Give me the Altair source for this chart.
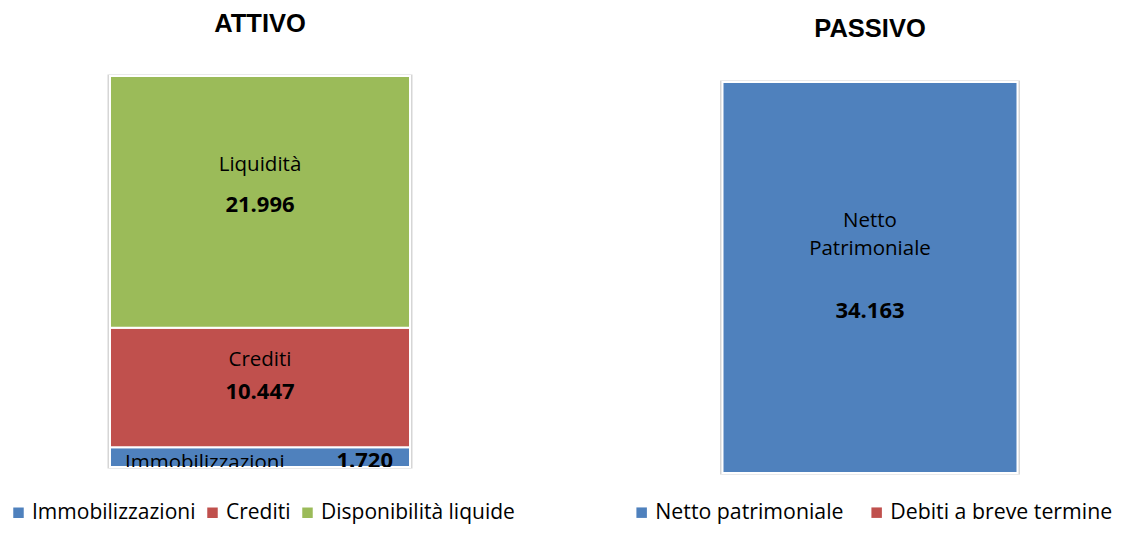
import altair as alt
import pandas as pd

# ---- data ----
attivo_cats = ["Immobilizzazioni", "Crediti", "Disponibilità liquide"]
attivo_labels = ["Immobilizzazioni", "Crediti", "Liquidità"]
attivo_values = [1720, 10447, 21996]
attivo_colors = ["#4F81BD", "#C0504D", "#9BBB59"]

passivo_cats = ["Netto patrimoniale", "Debiti a breve termine"]
passivo_labels = ["Netto\nPatrimoniale", ""]
passivo_values = [34163, 0]
passivo_colors = ["#4F81BD", "#C0504D"]

titles = ["ATTIVO", "PASSIVO"]

FONT = "Open Sans"
TITLE_FONT = "Liberation Sans"


def it_fmt(v):
    return f"{v:,}".replace(",", ".")


def build(cats, labels, values, side):
    rows = []
    acc = 0
    for i, (c, l, v) in enumerate(zip(cats, labels, values)):
        rows.append(dict(side=side, cat=c, label=l, value=v, order=i,
                         start=acc, end=acc + v, mid=acc + v / 2,
                         vtext=it_fmt(v)))
        acc += v
    return pd.DataFrame(rows), acc


df_a, tot_a = build(attivo_cats, attivo_labels, attivo_values, titles[0])
df_p, tot_p = build(passivo_cats, passivo_labels, passivo_values, titles[1])


def panel(df, total, cats, colors, bar_size, width, height, yrange, title,
          legend, text_specs):
    base = alt.Chart(df)
    x = alt.X("side:N", axis=None)
    yscale = alt.Scale(domain=[0, total], nice=False, zero=True, range=yrange)
    bg_df = pd.DataFrame({"side": [df["side"].iloc[0]], "start": [0], "end": [total]})
    bg = alt.Chart(bg_df).mark_bar(size=bar_size + 2, color="white",
                                   stroke="#d6d6d6", strokeWidth=3).encode(
        x=x, y=alt.Y("start:Q", scale=yscale, axis=None), y2="end:Q")
    bars = base.transform_filter("datum.value > 0").mark_bar(
        size=bar_size, stroke="white", strokeWidth=2).encode(
        x=x,
        y=alt.Y("start:Q", scale=yscale, axis=None),
        y2="end:Q",
        color=alt.Color("cat:N", scale=alt.Scale(domain=cats, range=colors),
                        legend=legend),
    )
    layers = [bg, bars]
    for cat, field, kw in text_specs:
        layers.append(
            base.transform_filter(alt.datum.cat == cat).mark_text(
                font=FONT, color="black", clip=True, lineBreak="\n", **kw
            ).encode(x=x, y=alt.Y("mid:Q", scale=yscale, axis=None),
                     text=f"{field}:N")
        )
    return alt.layer(*layers).properties(width=width, height=height, title=title)


def legend(x, y, size, pad):
    return alt.Legend(orient="none", legendX=x, legendY=y, direction="horizontal",
                      title=None, symbolType="square", symbolSize=110,
                      symbolStrokeWidth=0, labelFont=FONT, labelFontSize=size,
                      labelColor="black", labelOffset=3, columnPadding=pad,
                      padding=0, labelLimit=400)


left_specs = [
    (attivo_cats[2], "label", dict(fontSize=20.5, dy=-37)),
    (attivo_cats[2], "vtext", dict(fontSize=22, fontWeight="bold", dy=3)),
    (attivo_cats[1], "label", dict(fontSize=20.5, dy=-28)),
    (attivo_cats[1], "vtext", dict(fontSize=22, fontWeight="bold", dy=4)),
    (attivo_cats[0], "label", dict(fontSize=20.5, dy=6, dx=-135, align="left")),
    (attivo_cats[0], "vtext", dict(fontSize=22, fontWeight="bold", dy=4, dx=133, align="right")),
]
right_specs = [
    (passivo_cats[0], "label", dict(fontSize=20.5, dy=-57, lineHeight=28.5)),
    (passivo_cats[0], "vtext", dict(fontSize=22, fontWeight="bold", dy=33)),
]

title_style = dict(font=TITLE_FONT, fontSize=25.5, fontWeight="bold", color="black",
                   offset=37)

left = panel(df_a, tot_a, attivo_cats, attivo_colors, 300, 498, 391, [391, 0],
             alt.TitleParams(titles[0], **title_style),
             legend(-3, 426, 21, 6), left_specs)
right = panel(df_p, tot_p, passivo_cats, passivo_colors, 295, 488, 397, [397, 6],
              alt.TitleParams(titles[1], dy=3.5, **title_style),
              legend(5, 426, 21.3, 22), right_specs)

chart = alt.hconcat(left, right, spacing=117, bounds="flush").resolve_scale(
    color="independent").configure_view(stroke=None).properties(
    padding={"left": 0, "right": 0, "top": 4, "bottom": 1})

chart.save("out.html", embed_options={"renderer": "svg", "actions": False})
